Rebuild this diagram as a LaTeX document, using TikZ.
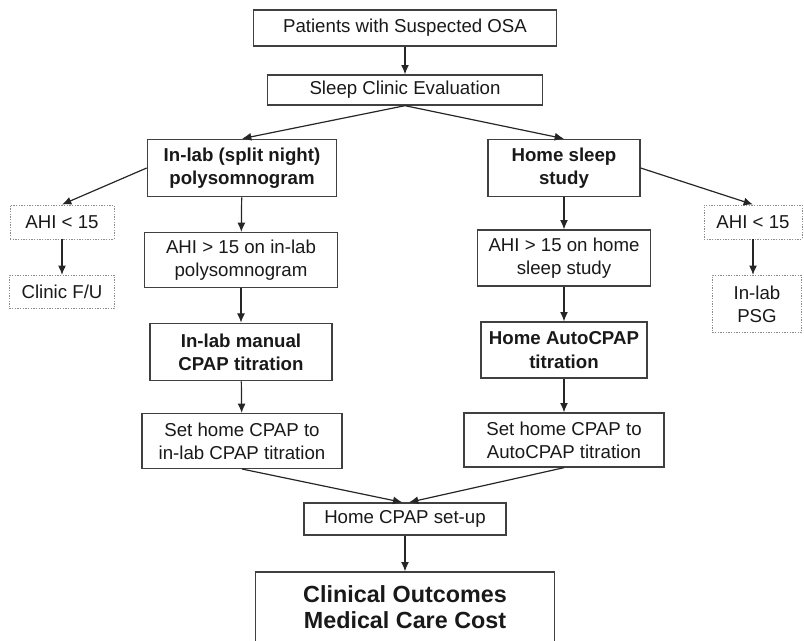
\documentclass[tikz,border=0pt]{standalone}
\usepackage{fontspec}
\setmainfont{Liberation Sans}
\usetikzlibrary{arrows.meta}

\begin{document}
\begin{tikzpicture}[
        x=0.75pt, y=-0.75pt,
        box/.style={draw=black!75, line width=1pt, inner sep=0pt, align=center,
            text=black!90, font=\fontsize{14pt}{17.5pt}\selectfont},
        bbox/.style={box, font=\fontsize{14pt}{17.5pt}\selectfont\bfseries},
        dotbox/.style={box, draw=black!45, densely dotted, line width=0.7pt},
        ar/.style={every edge/.style={draw=black!85, line width=0.9pt, -{Latex[length=7pt,width=6pt]}}},
    ]
    \useasboundingbox (0,0) rectangle (804,640);
    \clip (0,0) rectangle (804,640);

    \node[box, minimum width=227pt, minimum height=27pt](pat) at (405,28) {Patients with Suspected OSA};
    \node[box, minimum width=206pt, minimum height=22.5pt](eval) at (405,90) {Sleep Clinic Evaluation};

    \node[bbox, minimum width=142pt, minimum height=43pt](inlab) at (242,168) {In-lab (split night)\\ polysomnogram};
    \node[bbox, minimum width=114pt, minimum height=43pt](home) at (564,168) {Home sleep\\ study};

    \node[dotbox, minimum width=78pt, minimum height=25.5pt](ahil) at (62,222) {AHI < 15};
    \node[dotbox, minimum width=79pt, minimum height=25pt](fu) at (62,292) {Clinic F/U};
    \node[dotbox, minimum width=73.5pt, minimum height=25.5pt](ahir) at (753,222) {AHI < 15};
    \node[dotbox, minimum width=67pt, minimum height=43pt](psg) at (757,304) {In-lab\\ PSG};

    \node[box, minimum width=145pt, minimum height=41pt](ahiin) at (241,260) {AHI > 15 on in-lab\\ polysomnogram};
    \node[box, minimum width=130pt, minimum height=42pt](ahihome) at (564,258) {AHI > 15 on home\\ sleep study};

    \node[bbox, minimum width=136.5pt, minimum height=43pt](cpapin) at (241,352) {In-lab manual\\ CPAP titration};
    \node[bbox, minimum width=124.5pt, minimum height=42pt](cpaphome) at (564,350) {Home AutoCPAP\\ titration};

    \node[box, minimum width=150pt, minimum height=41pt](setin) at (242,441) {Set home CPAP to\\ in-lab CPAP titration};
    \node[box, minimum width=150pt, minimum height=40.5pt](sethome) at (564,440) {Set home CPAP to\\ AutoCPAP titration};

    \node[box, minimum width=151.5pt, minimum height=24pt](setup) at (405,519) {Home CPAP set-up};
    \node[box, minimum width=224pt, minimum height=52.5pt,
        font=\fontsize{17.5pt}{19pt}\selectfont\bfseries](outc) at (405,607) {Clinical Outcomes\\ Medical Care Cost};

    \path[ar]
    (pat) edge (eval)
    (eval.south) edge (inlab.north) edge (home.north)
    (inlab.west) edge (ahil.north)
    (home.east) edge (ahir.north)
    (ahil) edge (fu)
    (ahir.south) edge (ahir.south |- psg.north)

    (inlab) edge (ahiin)
    (ahiin) edge (cpapin)
    (cpapin) edge (setin)
    (home) edge (ahihome)
    (ahihome) edge (cpaphome)
    (cpaphome) edge (sethome)

    (setin.south) edge ([xshift=-2pt]setup.north)
    (sethome.south) edge ([xshift=3pt]setup.north)
    (setup) edge (outc)
    ;
\end{tikzpicture}
\end{document}
